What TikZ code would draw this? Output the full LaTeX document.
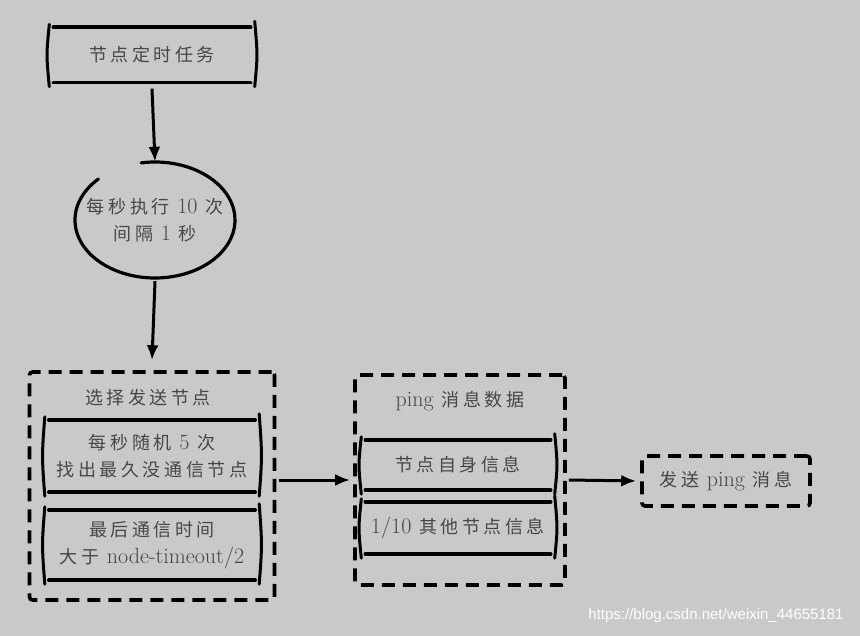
\documentclass[tikz,border=0pt]{standalone}
\usepackage{fontspec}
\newfontfamily\cjk[LetterSpace=20]{Noto Sans CJK SC}
\newfontfamily\wmfont{Liberation Sans}
\usepackage{xcolor}
\usepackage{tikz}
\usetikzlibrary{arrows.meta,positioning,calc,shapes.geometric}
\definecolor{paper}{HTML}{C9C9C9}
\definecolor{ink}{HTML}{474747}
\newcommand{\la}[1]{{\rmfamily\fontsize{22}{27}\selectfont #1}}
% box with solid top/bottom and bracket-like sides
\newcommand{\sketchbox}[1]{%
  \draw[sketch] ([xshift=4pt]#1.north west) -- ([xshift=-4pt]#1.north east)
                ([xshift=4pt]#1.south west) -- ([xshift=-4pt]#1.south east);
  \draw[sketch,line width=3pt] ([yshift=3pt]#1.north west) .. controls ([xshift=-3pt]#1.west) .. ([yshift=-4pt]#1.south west)
                ([yshift=6pt]#1.north east) .. controls ([xshift=3pt]#1.east) .. ([yshift=-4pt]#1.south east);}

\begin{document}
\begin{tikzpicture}[x=1pt,y=-1pt, every node/.style={align=center,text=ink,font=\fontsize{18}{27}\selectfont\cjk},
  sketch/.style={line width=3.6pt,line cap=round},
  dashbox/.style={draw,line width=3.6pt,dash pattern=on 13pt off 8pt,rounded corners=3pt},
  >={Latex[length=15pt,width=12pt]}]
\useasboundingbox[fill=paper] (0,0) rectangle (860,636);

\node[minimum width=205,minimum height=55] (task) at (152,55) {节点定时任务};
\sketchbox{task}
\node[ellipse,minimum width=160,minimum height=116] (tick) at (155,220) {每秒执行 \la{10} 次\\间隔 \la{1} 秒};
\draw[sketch,line width=3.2pt] ([shift={(100:80pt and 58pt)}]tick.center) arc[start angle=100,end angle=-225,x radius=80pt,y radius=58pt];

% select nodes
\node[dashbox,minimum width=245,minimum height=228] (pick) at (152,486) {};
\node (picktitle) at (148,398) {选择发送节点};
\node[minimum width=214,minimum height=72] (rand) at (152,456) {每秒随机 \la{5} 次\\找出最久没通信节点};
\node[minimum width=214,minimum height=70] (last) at (152,545) {最后通信时间\\大于 \la{node-timeout/2}};
\sketchbox{rand}
\sketchbox{last}

% ping payload
\node[dashbox,minimum width=210,minimum height=210] (ping) at (460,480) {};
\node (pingtitle) at (460,401) {\la{ping} 消息数据};
\node[minimum width=193,minimum height=50] (self) at (458,465) {节点自身信息};
\node[minimum width=193,minimum height=52] (others) at (458,528) {\la{1/10} 其他节点信息};
\sketchbox{self}
\sketchbox{others}

\node[dashbox,minimum width=168,minimum height=50] (send) at (726,481) {发送 \la{ping} 消息};

\draw[->,line width=3pt] ([yshift=-6pt]task.south) -- (tick.north);
\draw[->,line width=3pt] ([yshift=-3pt]tick.south) -- ([yshift=10pt]pick.north);
\draw[->,line width=3pt,shorten <=3pt,shorten >=3pt] (pick.east |- ping.west) -- (ping.west);
\draw[->,line width=3pt,shorten <=2pt,shorten >=4pt] (ping.east) -- (send.west);

\node[font=\fontsize{15}{18}\selectfont\wmfont,text=white] (mark) at (716,616) {https://blog.csdn.net/weixin\_44655181};
\end{tikzpicture}
\end{document}
